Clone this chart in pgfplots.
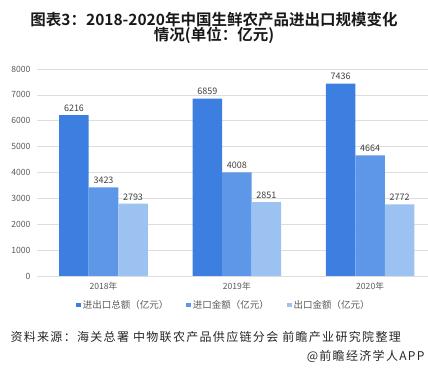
\documentclass[border=0pt]{standalone}
\usepackage{pgfplots}
\pgfplotsset{compat=1.18}
\usepackage{fontspec}
\setmainfont{Noto Sans CJK SC}[BoldFont={Noto Sans CJK SC Bold}]
\newfontfamily\srcfont{Noto Sans CJK SC}[LetterSpace=11]
\definecolor{c1}{HTML}{3C7FE0}
\definecolor{c2}{HTML}{5F97E8}
\definecolor{c3}{HTML}{9CC2F2}
\definecolor{tick}{HTML}{595959}
\definecolor{gridc}{HTML}{DDDDDD}
\begin{document}
\begin{tikzpicture}[x=1bp,y=1bp]
\useasboundingbox (0,0) rectangle (428,371);
\node[font=\bfseries\fontsize{15.5bp}{16bp}\selectfont, text=black!90] at (214,351) {图表3：2018-2020年中国生鲜农产品进出口规模变化};
\node[font=\bfseries\fontsize{15.5bp}{16bp}\selectfont, text=black!90] at (214,336) {情况(单位：亿元)};
\begin{axis}[
  at={(37bp,95bp)}, anchor=south west,
  scale only axis, width=391bp, height=207bp,
  ybar, bar width=29.5bp,
  xmin=-0.499, xmax=2.435, ymin=0, ymax=8000,
  xtick={0,1,2}, xticklabels={2018年,2019年,2020年},
  ytick={0,1000,...,8000},
  ymajorgrids, grid style={gridc, line width=0.6bp},
  axis line style={draw=none},
  major tick length=0pt,
  /pgf/number format/assume math mode=true,
  /pgf/number format/1000 sep={},
  ticklabel style={font=\fontsize{8.6bp}{9bp}\selectfont, text=tick},
  yticklabel style={xshift=-3bp},
  xticklabel style={yshift=-3bp},
  nodes near coords,
  nodes near coords style={font=\fontsize{9bp}{9bp}\selectfont, text=black!75, /pgf/number format/1000 sep={}},
  legend columns=3,
  legend style={at={(0.478,-0.14)}, anchor=center, draw=none, fill=none,
    font=\fontsize{9.5bp}{10bp}\selectfont, text=tick,
    /tikz/every even column/.append style={column sep=16bp}},
  legend image code/.code={\fill[#1,draw=none] (0bp,-2.3bp) rectangle (4.6bp,2.3bp);},
]
\addplot[fill=c1, draw=none, bar shift=-29.5bp] coordinates {(0,6216) (1,6859) (2,7436)};
\addplot[fill=c2, draw=none, bar shift=0bp] coordinates {(0,3423) (1,4008) (2,4664)};
\addplot[fill=c3, draw=none, bar shift=29.5bp] coordinates {(0,2793) (1,2851) (2,2772)};
\legend{进出口总额（亿元）,进口金额（亿元）,出口金额（亿元）}
\end{axis}
\node[anchor=west, font=\srcfont\fontsize{12bp}{13bp}\selectfont, text=black!85] at (7,34) {资料来源：海关总署 中物联农产品供应链分会 前瞻产业研究院整理};
\node[anchor=east, font=\srcfont\fontsize{12bp}{13bp}\selectfont, text=black!85] at (428,15) {@前瞻经济学人APP};
\end{tikzpicture}
\end{document}
